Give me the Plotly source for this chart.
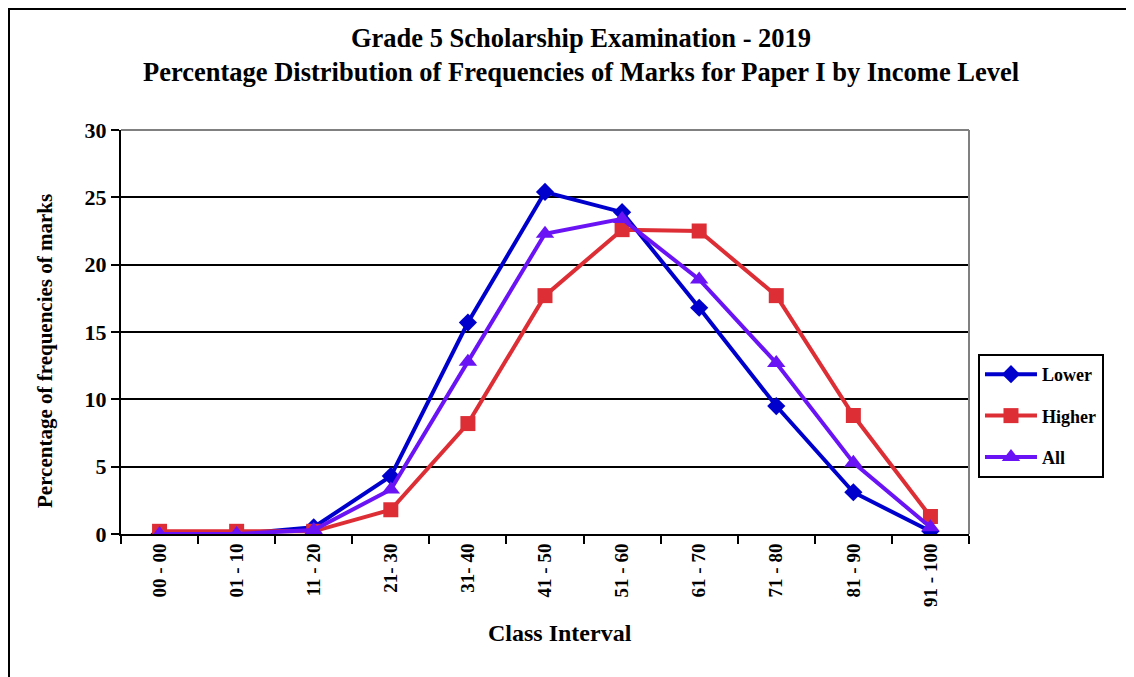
import plotly.graph_objects as go

categories = ["00 - 00", "01 - 10", "11 - 20", "21- 30", "31- 40", "41 - 50",
              "51 - 60", "61 - 70", "71 - 80", "81 - 90", "91 - 100"]
lower = [0.0, 0.0, 0.5, 4.3, 15.7, 25.4, 23.9, 16.8, 9.5, 3.1, 0.2]
higher = [0.2, 0.2, 0.2, 1.8, 8.2, 17.7, 22.6, 22.5, 17.7, 8.8, 1.3]
all_ = [0.0, 0.0, 0.3, 3.3, 12.8, 22.3, 23.4, 18.9, 12.7, 5.3, 0.5]

title_lines = ["Grade 5 Scholarship Examination - 2019",
               "Percentage Distribution of Frequencies of Marks for Paper I by Income Level"]
x_title = "Class Interval"
y_title = "Percentage of frequencies of marks"

FONT = "Liberation Serif"

fig = go.Figure()
fig.add_trace(go.Scatter(x=categories, y=lower, name="<b>Lower</b>", mode="lines+markers",
                         line=dict(color="#0000CD", width=4),
                         marker=dict(symbol="diamond", size=14, color="#0000CD"),
                         legendgroup="a"))
fig.add_trace(go.Scatter(x=categories, y=higher, name="<b>Higher</b>", mode="lines+markers",
                         line=dict(color="#DD2E36", width=4),
                         marker=dict(symbol="square", size=15, color="#DD2E36"),
                         legendgroup="b"))
fig.add_trace(go.Scatter(x=categories, y=all_, name="<b>All</b>", mode="lines+markers",
                         line=dict(color="#6A14F5", width=4),
                         marker=dict(symbol="triangle-up", size=16, color="#6A14F5"),
                         legendgroup="c"))

fig.update_layout(
    width=1134, height=677,
    margin=dict(l=113, r=173, t=122, b=151),
    paper_bgcolor="white", plot_bgcolor="white",
    font=dict(family=FONT, color="black"),
    showlegend=True,
    legend=dict(x=1.0106, y=0.4455, xanchor="left", yanchor="top",
                bordercolor="black", borderwidth=2, bgcolor="white",
                font=dict(size=18, family=FONT), tracegroupgap=15,
                itemwidth=52),
)
# two-line title
fig.add_annotation(text="<b>" + "<br>".join(title_lines) + "</b>", xref="paper", yref="paper",
                   x=(573 - 113) / 848, y=(526 - 47.5) / 404,
                   xanchor="center", yanchor="middle", showarrow=False, align="center",
                   font=dict(size=26.5, family=FONT, color="black"))
# axis titles
fig.add_annotation(text="<b>" + x_title + "</b>", xref="paper", yref="paper",
                   x=(552 - 113) / 848, y=(526 - 625) / 404,
                   xanchor="center", yanchor="middle", showarrow=False,
                   font=dict(size=24, family=FONT, color="black"))
fig.add_annotation(text="<b>" + y_title + "</b>", xref="paper", yref="paper",
                   x=(37 - 113) / 848, y=(526 - 343) / 404, textangle=-90,
                   xanchor="center", yanchor="middle", showarrow=False,
                   font=dict(size=21, family=FONT, color="black"))

fig.update_xaxes(
    type="category", tickson="boundaries", ticks="outside", ticklen=8, tickwidth=2,
    tickcolor="black", showline=True, linecolor="black", linewidth=2,
    tickangle=-90, tickfont=dict(size=19, family=FONT),
    tickprefix="<b>", ticksuffix="</b>",
    showgrid=False, range=[-0.5, 10.5],
)
fig.update_yaxes(
    range=[0, 30], dtick=5, ticks="outside", ticklen=8, tickwidth=2, tickcolor="black",
    showline=True, linecolor="black", linewidth=2,
    tickfont=dict(size=22, family=FONT), tickprefix="<b>", ticksuffix="</b>",
    showgrid=True, gridcolor="black", gridwidth=2,
    zeroline=False,
)
# gray top and right border of plot area
fig.add_shape(type="line", xref="paper", yref="paper", x0=0, x1=1, y0=1, y1=1,
              line=dict(color="#808080", width=2))
fig.add_shape(type="line", xref="paper", yref="paper", x0=1, x1=1, y0=0, y1=1,
              line=dict(color="#808080", width=2))
# outer frame around the whole figure
fig.add_shape(type="rect", xref="paper", yref="paper",
              x0=-112 / 848, x1=(1134 - 113 - 1) / 848,
              y0=-(151 - 1) / 404, y1=(526 - 1) / 404,
              line=dict(color="black", width=2), fillcolor="rgba(0,0,0,0)", layer="below")

fig.write_html("out.html")
